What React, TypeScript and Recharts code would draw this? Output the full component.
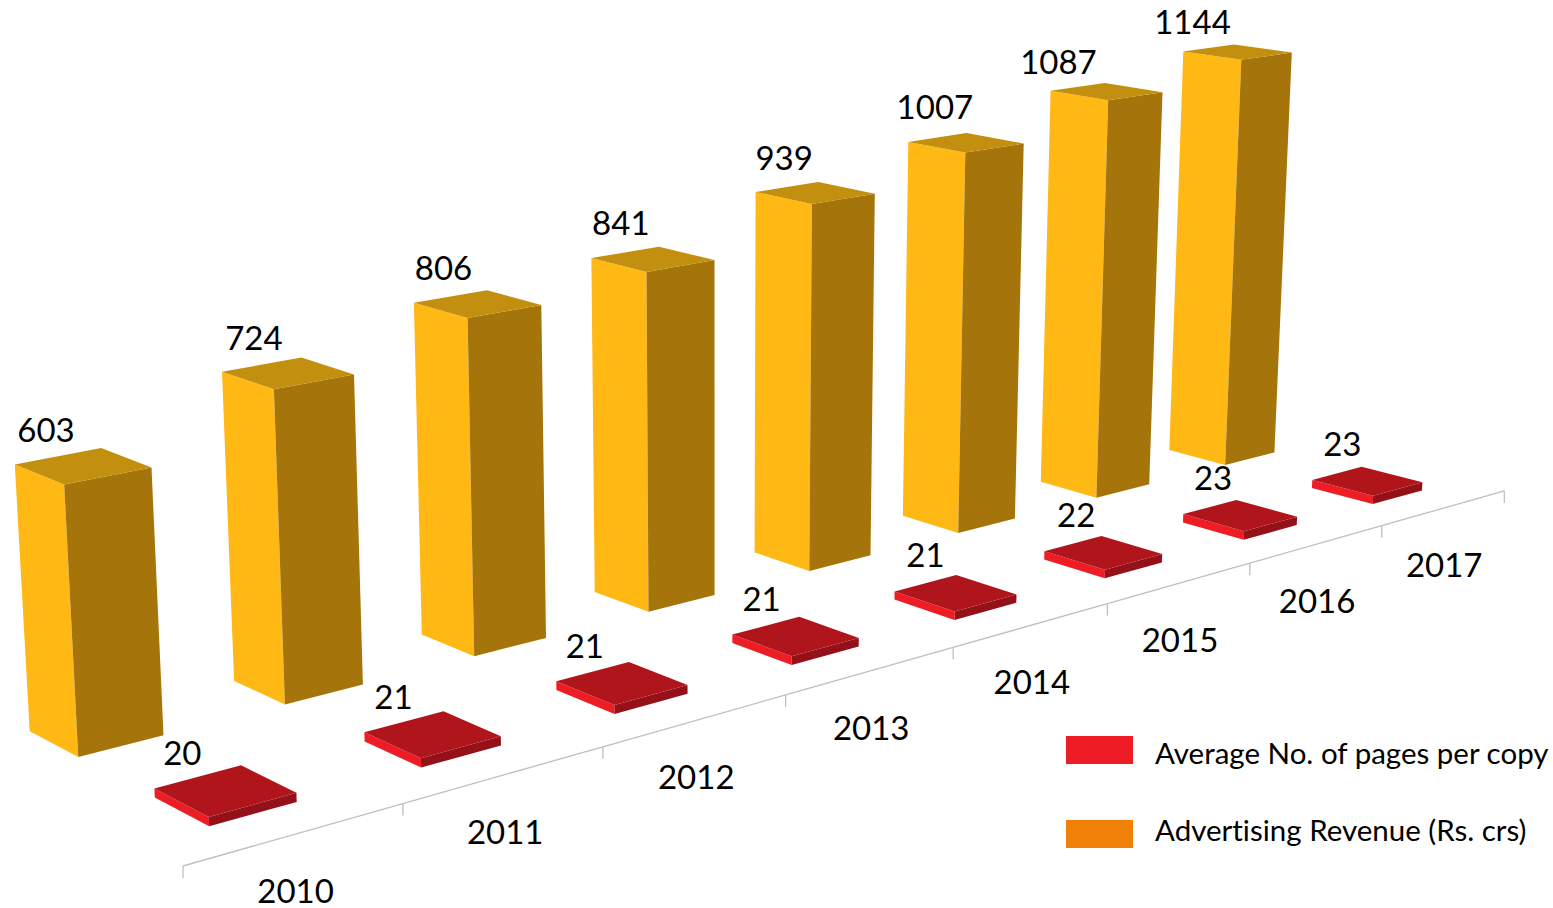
import { BarChart, Bar, XAxis, YAxis, Legend } from 'recharts';

const years = ['2010', '2011', '2012', '2013', '2014', '2015', '2016', '2017'];
const pagesPerCopy = [20, 21, 21, 21, 21, 22, 23, 23];
const adRevenue = [603, 724, 806, 841, 939, 1007, 1087, 1144];

const data = years.map((year, i) => ({
  year,
  pages: pagesPerCopy[i],
  revenue: adRevenue[i],
}));

const WIDTH = 1553;
const HEIGHT = 908;
const PLOT_HEIGHT = HEIGHT - 1;
const Y_MAX = 1200;
const BAND = WIDTH / years.length;
const FONT = 'Lato, sans-serif';

// Camera: (category, depth row, value) -> screen, three-point perspective
const project = (X: number, Y: number, Z: number) => {
  const w = 1 + 0.04968 * X + 0.0598 * Y - 3.858e-5 * Z;
  return {
    x: (183 + 239.9 * X - 130.5 * Y - 0.02778 * Z) / w,
    y: (866 - 22.5 * X - 26.2 * Y - 0.5084 * Z) / w,
  };
};

const pts = (list: { x: number; y: number }[]) =>
  list.map((p) => `${p.x.toFixed(1)},${p.y.toFixed(1)}`).join(' ');

// Bars sit a little under the floor line and are slightly stretched
const Z_FLOOR = -4;
const Z_STRETCH = 1.008;

// dx, dy: hand nudges of the value labels, the source placed them by eye
const PAGES_ROW = {
  depth: 0.5,
  left: '#EE1C25',
  right: '#94111A',
  top: '#B0151C',
  dx: [-43, -39, -37, -34, -30, -27, -27, -25],
  dy: [-38.5, -38.5, -38.5, -38.5, -38.5, -38.5, -38.5, -38.5],
};
const REVENUE_ROW = {
  depth: 1.5,
  left: '#FFB814',
  right: '#A5740A',
  top: '#C28F0E',
  dx: [-37, -34, -34, -32, -31, -31, -48, -45],
  dy: [-37, -36, -37, -37, -36, -36.5, -31, -31],
};

// Extrudes the flat bar Recharts laid out into a prism in the camera above
function Prism(props: any) {
  const { x, width, height, index, value, row } = props;
  const x0 = x / BAND;
  const x1 = (x + width) / BAND;
  const half = width / BAND / 2;
  const y0 = row.depth - half;
  const y1 = row.depth + half;
  const z = (height / PLOT_HEIGHT) * Y_MAX * Z_STRETCH + Z_FLOOR;
  const b = Z_FLOOR;

  const centre = project((x0 + x1) / 2, row.depth, z);

  return (
    <g>
      <polygon
        fill={row.left}
        points={pts([project(x0, y1, b), project(x0, y0, b), project(x0, y0, z), project(x0, y1, z)])}
      />
      <polygon
        fill={row.right}
        points={pts([project(x0, y0, b), project(x1, y0, b), project(x1, y0, z), project(x0, y0, z)])}
      />
      <polygon
        fill={row.top}
        points={pts([project(x0, y0, z), project(x1, y0, z), project(x1, y1, z), project(x0, y1, z)])}
      />
      <text
        x={centre.x + row.dx[index]}
        y={centre.y + row.dy[index]}
        textAnchor="middle"
        dominantBaseline="central"
        fontFamily={FONT}
        fontSize={33}
        fill="#000"
      >
        {value}
      </text>
    </g>
  );
}

// The floor axis: one segment and tick per category, label under its midpoint
function FloorTick(props: any) {
  const { x, payload, index } = props;
  const mid = x / BAND;
  const from = project(mid - 0.5, 0, 0);
  const to = project(mid + 0.5, 0, 0);
  const centre = project(mid, 0, 0);
  return (
    <g stroke="#BFBFBF" strokeWidth={1.3}>
      <line x1={from.x} y1={from.y} x2={to.x} y2={to.y} />
      <line x1={from.x} y1={from.y} x2={from.x} y2={from.y + 12} />
      {index === years.length - 1 && <line x1={to.x} y1={to.y} x2={to.x} y2={to.y + 12} />}
      <text
        x={centre.x}
        y={centre.y + 56}
        textAnchor="middle"
        dominantBaseline="central"
        fontFamily={FONT}
        fontSize={33}
        fill="#000"
        stroke="none"
      >
        {payload.value}
      </text>
    </g>
  );
}

const LEGEND_SWATCH_TOP = [0, 84];
const LEGEND_TEXT_TOP = [-1, 76];

function LegendRows({ payload }: any) {
  return (
    <div style={{ position: 'relative', fontFamily: FONT, fontSize: 29.5, lineHeight: '36px', color: '#000', fontVariantLigatures: 'none' }}>
      {(payload || []).map((entry: any, i: number) => (
        <div key={entry.value}>
          <span
            style={{ position: 'absolute', left: 0, top: LEGEND_SWATCH_TOP[i], width: 67, height: 28, background: entry.color }}
          />
          <span style={{ position: 'absolute', left: 89, top: LEGEND_TEXT_TOP[i], whiteSpace: 'nowrap' }}>
            {entry.value}
          </span>
        </div>
      ))}
    </div>
  );
}

export default function App() {
  return (
    <div style={{ position: 'absolute', left: 0, top: 0, width: WIDTH, height: HEIGHT, background: '#fff' }}>
      <BarChart
        width={WIDTH}
        height={HEIGHT}
        data={data}
        margin={{ top: 0, right: 0, bottom: 0, left: 0 }}
        barCategoryGap="30%"
      >
        <XAxis
          xAxisId="pages"
          dataKey="year"
          height={1}
          interval={0}
          axisLine={false}
          tickLine={false}
          tick={(p: any) => <FloorTick {...p} />}
        />
        <XAxis xAxisId="revenue" dataKey="year" hide />
        <YAxis hide domain={[0, Y_MAX]} />
        <Legend
          layout="horizontal"
          verticalAlign="middle"
          itemSorter={null}
          wrapperStyle={{ left: 1066, top: 736, width: 487, height: 120 }}
          content={(p: any) => <LegendRows {...p} />}
        />
        <Bar
          xAxisId="pages"
          dataKey="pages"
          name="Average No. of pages per copy"
          fill="#EE1C25"
          isAnimationActive={false}
          shape={(p: any) => <Prism {...p} row={PAGES_ROW} />}
        />
        <Bar
          xAxisId="revenue"
          dataKey="revenue"
          name="Advertising Revenue (Rs. crs)"
          fill="#F08008"
          isAnimationActive={false}
          shape={(p: any) => <Prism {...p} row={REVENUE_ROW} />}
        />
      </BarChart>
    </div>
  );
}
